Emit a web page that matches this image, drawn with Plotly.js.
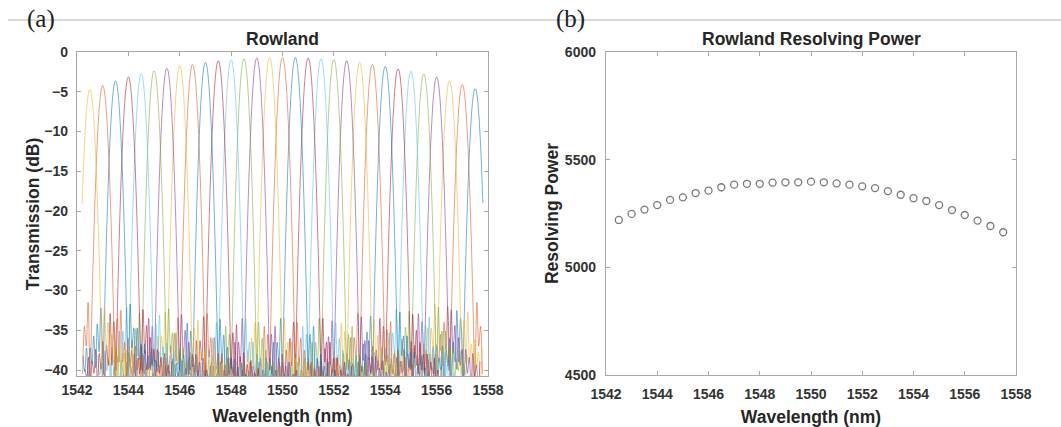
<!DOCTYPE html>
<html><head><meta charset="utf-8">
<script src="https://cdn.plot.ly/plotly-3.0.1.min.js"></script>
<style>html,body{margin:0;padding:0;background:#fff}#chart{width:1061px;height:427px}</style>
</head><body><div id="chart"></div>
<script>
// ---- data ----
const channelWavelength = [1542.5,1543.0,1543.5,1544.0,1544.5,1545.0,1545.5,1546.0,1546.5,1547.0,1547.5,1548.0,1548.5,1549.0,1549.5,1550.0,1550.5,1551.0,1551.5,1552.0,1552.5,1553.0,1553.5,1554.0,1554.5,1555.0,1555.5,1556.0,1556.5,1557.0,1557.5];
const peakTransmission = [-4.7,-4.2,-3.65,-3.15,-2.7,-2.35,-2.05,-1.75,-1.55,-1.3,-1.1,-0.95,-0.85,-0.75,-0.7,-0.7,-0.7,-0.75,-0.85,-0.95,-1.1,-1.3,-1.55,-1.8,-2.1,-2.4,-2.75,-3.15,-3.6,-4.1,-4.6];
// main-lobe profile: offset from channel centre (nm) and level below the peak (dB)
const lobeOffset = [0,0.03,0.06,0.09,0.12,0.15,0.18,0.21,0.24,0.27,0.30,0.33,0.36,0.39,0.42,0.45,0.48];
const lobeRelative = [0,-0.14,-0.58,-1.3,-2.3,-3.6,-5.2,-7.06,-9.2,-11.7,-14.4,-17.4,-20.7,-24.3,-28.2,-32.4,-36.9];
// side-lobe tails: offset from channel centre (nm) and level (dB), three shapes
const tailOffset = [0.50,0.57,0.64,0.71,0.78,0.85,0.92,0.99,1.06,1.13,1.20,1.27,1.34,1.41,1.48,1.55,1.62,1.69];
const tailA = [-41,-34,-39.5,-36,-41.5,-37.5,-41,-39,-43,-39,-42,-40,-43.5,-39.5,-42.5,-41,-44,-40.5];
const tailB = [-40,-35.5,-41,-34.5,-41,-38.5,-43,-38,-41.5,-39.5,-43.5,-39,-42,-40.5,-44,-40,-42.5,-41.5];
const tailC = [-42,-33.5,-39,-36.5,-42.5,-36.5,-40.5,-38.5,-42,-38.5,-43,-40,-41.5,-39,-43.5,-40.5,-42,-39.5];
const sidelobeShift = [2,2,1.8,1.6,1.4,1.2,1,0.8,0.6,0.4,0.2,0,0,0,0,0,0,0,0,0,0.2,0.4,0.6,0.8,1,1.2,1.4,1.6,1.8,2,2];
const resolvingPower = [5220,5248,5268,5289,5313,5325,5345,5356,5372,5384,5388,5388,5393,5395,5395,5398,5395,5390,5384,5376,5368,5354,5337,5321,5308,5289,5266,5243,5217,5192,5163];
const wavelengthTicks = [1542,1544,1546,1548,1550,1552,1554,1556,1558];
const transmissionTicks = [0,-5,-10,-15,-20,-25,-30,-35,-40];
const powerTicks = [4500,5000,5500,6000];
const lineColors = ['#0072BD','#D95319','#EDB120','#7E2F8E','#77AC30','#4DBEEE','#A2142F'];

// ---- build traces ----
const tails = [tailA, tailB, tailC];
const traces = [];
const n = channelWavelength.length;
for (let i = 0; i < n; i++) {
  const k = n - 1 - i; // plotted from the long-wavelength end
  const c = channelWavelength[k], p = peakTransmission[k], s = sidelobeShift[k];
  const right = tails[k % 3], left = tails[(k + 1) % 3];
  const xs = [], ys = [];
  for (let j = tailOffset.length - 1; j >= 0; j--) { xs.push(c - tailOffset[j]); ys.push(left[j] + s); }
  for (let j = lobeOffset.length - 1; j >= 1; j--) { xs.push(c - lobeOffset[j]); ys.push(p + lobeRelative[j]); }
  for (let j = 0; j < lobeOffset.length; j++) { xs.push(c + lobeOffset[j]); ys.push(p + lobeRelative[j]); }
  for (let j = 0; j < tailOffset.length; j++) { xs.push(c + tailOffset[j]); ys.push(right[j] + s); }
  const fx = [], fy = [];
  for (let j = 0; j < xs.length; j++) if (xs[j] >= 1542.2 && xs[j] <= 1557.8) { fx.push(xs[j]); fy.push(ys[j]); }
  traces.push({
    type: 'scatter', mode: 'lines', x: fx, y: fy, xaxis: 'x', yaxis: 'y',
    line: {color: lineColors[i % 7], width: 0.9, shape: 'spline', smoothing: 1},
    opacity: 0.62, hoverinfo: 'skip', showlegend: false
  });
}
traces.push({
  type: 'scatter', mode: 'markers', x: channelWavelength, y: resolvingPower, xaxis: 'x2', yaxis: 'y2',
  marker: {symbol: 'circle-open', size: 7, color: '#7a7a7a', line: {width: 1.3, color: '#7a7a7a'}},
  showlegend: false
});

const tickFont = {family: 'Liberation Sans, Arial, sans-serif', size: 14, color: '#333333', weight: 'bold'};
const titleFont = {family: 'Liberation Sans, Arial, sans-serif', size: 17.5, color: '#262626', weight: 'bold'};
const axisBase = {
  showgrid: false, zeroline: false, showline: true, mirror: 'ticks',
  linecolor: '#a8a8a8', linewidth: 1.2, ticks: 'inside', ticklen: 4,
  tickcolor: '#a8a8a8', tickwidth: 1, tickfont: tickFont, fixedrange: true
};
const W = 1061, H = 427;
const layout = {
  width: W, height: H, margin: {l: 0, r: 0, t: 0, b: 0},
  paper_bgcolor: '#ffffff', plot_bgcolor: '#ffffff', showlegend: false,
  xaxis: Object.assign({}, axisBase, {domain: [77/W, 488/W], range: [1542, 1558], tickvals: wavelengthTicks,
    anchor: 'y', ticklabelstandoff: 1, title: {text: 'Wavelength (nm)', font: titleFont, standoff: 12}}),
  yaxis: Object.assign({}, axisBase, {domain: [1 - 376/H, 1 - 52/H], range: [-40.75, 0], tickvals: transmissionTicks,
    anchor: 'x', ticklabelstandoff: 5, title: {text: 'Transmission (dB)', font: titleFont, standoff: 0}}),
  xaxis2: Object.assign({}, axisBase, {domain: [606/W, 1016/W], range: [1542, 1558], tickvals: wavelengthTicks,
    anchor: 'y2', ticklabelstandoff: 6, title: {text: 'Wavelength (nm)', font: titleFont, standoff: 10}}),
  yaxis2: Object.assign({}, axisBase, {domain: [1 - 375/H, 1 - 52/H], range: [4500, 6000], tickvals: powerTicks,
    anchor: 'x2', ticklabelstandoff: 6, title: {text: 'Resolving Power', font: titleFont, standoff: 1}}),
  shapes: [{type: 'line', xref: 'paper', yref: 'paper', x0: 8/W, x1: 1, y0: 1 - 20/H, y1: 1 - 20/H,
    line: {color: '#b4b4b4', width: 1}}],
  annotations: [
    {text: 'Rowland', xref: 'paper', yref: 'paper', x: (77 + 488)/2/W, y: 1 - 39/H, xanchor: 'center', yanchor: 'middle', showarrow: false, font: titleFont},
    {text: 'Rowland Resolving Power', xref: 'paper', yref: 'paper', x: (606 + 1016)/2/W, y: 1 - 39/H, xanchor: 'center', yanchor: 'middle', showarrow: false, font: titleFont},
    {text: '(a)', xref: 'paper', yref: 'paper', x: 41/W, y: 1 - 19/H, xanchor: 'center', yanchor: 'middle', showarrow: false,
      font: {family: 'Liberation Serif, Times New Roman, serif', size: 25, color: '#222222'}},
    {text: '(b)', xref: 'paper', yref: 'paper', x: 570/W, y: 1 - 19/H, xanchor: 'center', yanchor: 'middle', showarrow: false,
      font: {family: 'Liberation Serif, Times New Roman, serif', size: 25, color: '#222222'}}
  ]
};
Plotly.newPlot('chart', traces, layout, {displayModeBar: false, staticPlot: true});
</script></body></html>
